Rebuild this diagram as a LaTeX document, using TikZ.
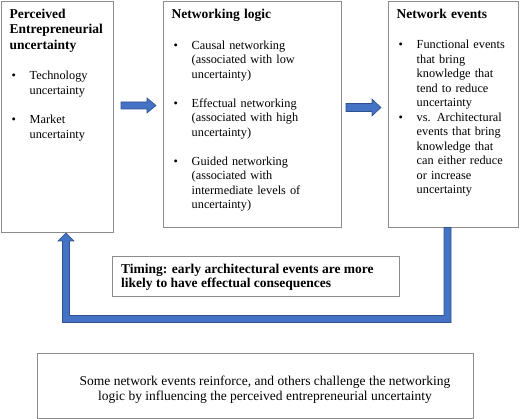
\documentclass[tikz,border=0pt]{standalone}
\usepackage{fontspec}
\setmainfont{Liberation Serif}
\usetikzlibrary{calc}
\definecolor{bfill}{HTML}{4472C4}
\definecolor{bline}{HTML}{2F528F}
\definecolor{bord}{HTML}{8C8C8C}
\setlength\parindent{0pt}
\newcommand\hd[1]{{\fontsize{13.5}{15.5}\selectfont\bfseries\rule{0pt}{10pt}#1\par}}
\newcommand\bitem[1]{\par\noindent\hangindent=20pt\hangafter=1\makebox[20pt][l]{\hspace{2pt}\textbullet}{\let\\\newline #1}\par}
\begin{document}
\begin{tikzpicture}[x=1pt,y=-1pt,
  box/.style={draw=bord, line width=0.8pt, anchor=north west, inner sep=0pt, outer sep=0pt},
  txt/.style={anchor=north west, inner sep=0pt, text width=#1, font=\fontsize{12.3}{14.5}\selectfont\raggedright},
  blockarrow/.style={fill=bfill, draw=bline, line width=0.6pt, line join=miter}]
\useasboundingbox (0,0) rectangle (520,419);
% boxes
\node[box, minimum width=112pt, minimum height=231pt] (b1) at (1,1) {};
\node[box, minimum width=178pt, minimum height=226pt] (b2) at (163,1) {};
\node[box, minimum width=130pt, minimum height=226pt] (b3) at (388,1) {};
\node[box, minimum width=287pt, minimum height=40pt] (tb) at (112,256) {};
\node[box, minimum width=436pt, minimum height=65pt] (bb) at (37,353) {};
% box texts
\node[txt=104pt] (t1) at (9.5,8) {%
\hd{Perceived\newline Entrepreneurial\newline uncertainty}
\vspace{16pt}
\bitem{Technology\\uncertainty}
\vspace{15pt}
\bitem{Market\\uncertainty}};
\node[txt=168pt] (t2) at (171.5,8.5) {%
\hd{Networking logic}
\vspace{16pt}
\bitem{Causal networking\\(associated with low\\uncertainty)}
\vspace{14.5pt}
\bitem{Effectual networking\\(associated with high\\uncertainty)}
\vspace{14.5pt}
\bitem{Guided networking\\(associated with\\intermediate levels of\\uncertainty)}};
\node[txt=120pt] (t3) at (396.5,8.5) {%
\hd{Network events}
\vspace{15.5pt}
\bitem{Functional events\\that bring\\knowledge that\\tend to reduce\\uncertainty}
\bitem{vs. Architectural\\events that bring\\knowledge that\\can either reduce\\or increase\\uncertainty}};
\node[anchor=north west, inner sep=0pt, align=left, font=\fontsize{13.5}{14.5}\selectfont\bfseries] (tt) at (121,263)
  {\rule{0pt}{10pt}Timing: early architectural events are more\\likely to have effectual consequences};
\node[anchor=north, inner sep=0pt, align=center, font=\fontsize{13.5}{15}\selectfont] (bt) at (265,375.5)
  {\rule{0pt}{10pt}Some network events reinforce, and others challenge the networking\\logic by influencing the perceived entrepreneurial uncertainty};
% block arrows
\draw[blockarrow] (121,102) -- (147,102) -- (147,98) -- (156,105.5) -- (147,113) -- (147,109) -- (121,109) -- cycle;
\draw[blockarrow] (346,103.5) -- (372,103.5) -- (372,99) -- (381,107.5) -- (372,116) -- (372,111.5) -- (346,111.5) -- cycle;
% feedback arrow from b3 to b1
\draw[blockarrow] (444,227.5) -- (444,315.5) -- (69.5,315.5) -- (69.5,241) -- (74,241) -- (66,233) -- (58,241) -- (62.5,241) -- (62.5,322.5) -- (451,322.5) -- (451,227.5) -- cycle;
\end{tikzpicture}
\end{document}
